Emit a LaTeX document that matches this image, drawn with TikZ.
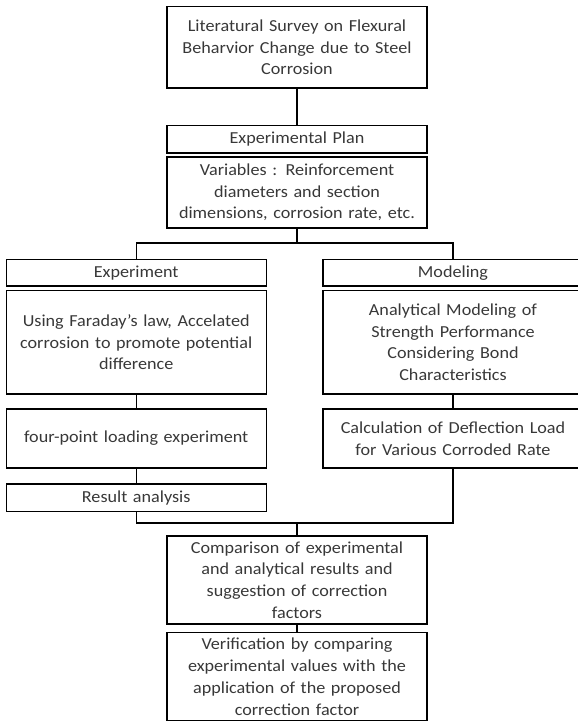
\documentclass[tikz,border=0pt]{standalone}
\usepackage{fontspec}
\setmainfont{Carlito}[FakeStretch=1.08]
\usetikzlibrary{positioning}
\begin{document}
\begin{tikzpicture}[x=1pt, y=1pt, node distance=92pt, line width=1.4pt, text=black!78, font=\fontsize{16.8}{21.7}\selectfont]
    \tikzstyle{blk}=[draw, minimum width=260pt, text width=250pt, inner xsep=5pt, inner ysep=0pt, align=center]

    \useasboundingbox (0,0) rectangle (578,-724);

    \node[blk, minimum height=81.5pt] (survey) at (297,-47.3) {Literatural Survey on Flexural\\ Beharvior Change due to Steel\\ Corrosion};
    \node[blk, minimum height=27.5pt, below of=survey, node distance=92pt] (plan) {Experimental Plan};
    \node[blk, minimum height=71pt, below of=plan, node distance=53.2pt] (vars) {Variables : Reinforcement\\ diameters and section\\ dimensions, corrosion rate, etc.};
    \coordinate[below of=vars, node distance=50.5pt] (fork);

    \node[blk, minimum height=26.5pt] (exp) at (136.2,-272.7) {Experiment};
    \node[blk, minimum height=103.5pt, below of=exp, node distance=69.5pt] (expbody) {Using Faraday's law, Accelated\\ corrosion to promote potential\\ difference};
    \node[blk, minimum height=59pt, below of=expbody, node distance=96.3pt] (fourpt) {four-point loading experiment};
    \node[blk, minimum height=27.5pt, below of=fourpt, node distance=59.2pt] (result) {Result analysis};

    \node[blk, minimum height=26.5pt, right of=exp, node distance=316.8pt] (model) {Modeling};
    \node[blk, minimum height=103.5pt, below of=model, node distance=69.5pt] (analytic) {Analytical Modeling of\\ Strength Performance\\ Considering Bond\\ Characteristics};
    \node[blk, minimum height=59pt, below of=analytic, node distance=96.3pt] (calc) {Calculation of Deflection Load\\ for Various Corroded Rate};

    \node[blk, minimum height=88pt] (compare) at (297,-580) {Comparison of experimental\\ and analytical results and\\ suggestion of correction\\ factors};
    \node[blk, minimum height=88pt, below of=compare, node distance=96.7pt] (verify) {Verification by comparing\\ experimental values with the\\ application of the proposed\\ correction factor};
    \coordinate[above of=compare, node distance=57pt] (join);

    \draw (survey) -- (plan);
    \draw (vars) -- (fork);
    \draw (fork) -| (exp);
    \draw (fork) -| (model);
    \draw (expbody) -- (fourpt);
    \draw (fourpt) -- (result);
    \draw (analytic) -- (calc);
    \draw (result) |- (join);
    \draw (calc) |- (join);
    \draw (join) -- (compare);
    \draw (compare) -- (verify);
  \end{tikzpicture}
\end{document}
